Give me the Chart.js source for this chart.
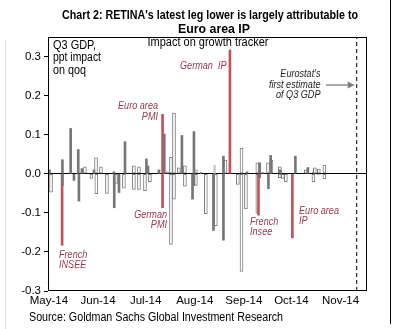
<!DOCTYPE html>
<html>
<head>
<meta charset="utf-8">
<script src="https://cdn.jsdelivr.net/npm/chart.js@4.4.0/dist/chart.umd.min.js"></script>
<style>
html, body { margin: 0; padding: 0; background: #fff; }
#wrap { position: relative; width: 399px; height: 329px; }
#edgeL { position: absolute; left: 5px; top: 40px; width: 1px; height: 289px; background: #e2e2e2; }
#edgeR { position: absolute; left: 390px; top: 0; width: 1px; height: 324px; background: #000; }
</style>
</head>
<body>
<div id="wrap"><canvas id="c"></canvas><div id="edgeL"></div><div id="edgeR"></div></div>
<script>
// ── DATA ────────────────────────────────────────────
// x = days since 1 May 2014
const monthDays = [0, 31, 61, 92, 123, 153, 184];
const monthLabels = ['May-14', 'Jun-14', 'Jul-14', 'Aug-14', 'Sep-14', 'Oct-14', 'Nov-14'];
const yTicks = [-0.3, -0.2, -0.1, 0, 0.1, 0.2, 0.3];

// dark grey bars
const filledDays = [0.3, 8.5, 8.5, 13.7, 15.8, 18.5, 18.9, 20.8, 28.4, 41, 41.2, 44.2, 48, 61.5, 62.5, 69.4, 72.8, 83.9, 90.6, 91.5, 91.5, 95.9, 103.8, 110.1, 110.1, 125, 133, 133, 135, 138.5, 139.9, 146, 155.5, 163.4];
const filledVals = [0.01, 0.036, -0.03, 0.116, -0.017, 0.062, -0.07, 0.013, 0.01, 0.005, -0.087, -0.048, 0.082, 0.038, 0.02, 0.01, 0.102, 0.098, -0.065, 0.108, -0.03, 0.003, -0.145, 0.045, -0.17, 0.005, 0.028, -0.01, 0.003, -0.038, 0.047, 0.01, 0.045, 0.016];

// outlined bars
const hollowDays = [1.3, 22.7, 26.8, 29.7, 29.9, 32.8, 36.6, 42.3, 47.3, 53.6, 53.6, 56.8, 56.8, 60.6, 63.7, 75, 77, 77, 78.9, 78.9, 82, 85.8, 85.8, 92.7, 92.7, 99, 105.3, 111.4, 119.2, 121.5, 121.5, 124.3, 131.5, 131.5, 138.2, 140.4, 145.7, 145.7, 147.6, 149.5, 162.1, 166.9, 166.9, 167.8, 170.3, 170.3, 173.8, 173.8];
const hollowVals = [-0.047, 0.018, -0.012, 0.041, -0.051, 0.018, -0.05, -0.025, -0.037, 0.02, -0.04, 0.018, -0.04, -0.043, -0.02, 0.005, 0.042, -0.181, 0.155, -0.065, 0.015, 0.02, -0.032, 0.01, -0.03, -0.102, -0.133, 0.035, -0.027, 0.066, -0.25, -0.09, 0.028, -0.1, 0.028, 0.035, 0.018, -0.01, -0.012, -0.02, 0.01, -0.02, 0.005, 0.015, 0.012, -0.003, 0.022, -0.013];

// light grey bars
const lightDays = [104.6];
const lightVals = [0.022];

// highlighted releases
const redDays = [8.3, 71.7, 71.7, 114.2, 132.2, 153.6];
const redVals = [-0.183, 0.152, -0.087, 0.317, -0.106, -0.164];

const estimateDay = 194.2;
const yMin = -0.3, yMax = 0.35;

const pts = (days, vals) => days.map((d, i) => ({ x: d, y: vals[i] }));

// ── TEXT HELPERS ────────────────────────────────────
const SANS = '"Liberation Sans", Arial, sans-serif';
const RED_TXT = '#953a4f';

function txt(ctx, s, x, y, align, font, color, sx, w) {
  ctx.save();
  ctx.font = font;
  if (w) sx = w / ctx.measureText(s).width;
  ctx.translate(x, y);
  ctx.scale(sx || 1, 1);
  ctx.fillStyle = color;
  ctx.textAlign = align;
  ctx.textBaseline = 'middle';
  ctx.fillText(s, 0, 0);
  ctx.restore();
}

const decor = {
  id: 'decor',
  afterDraw(chart) {
    const ctx = chart.ctx;
    const a = chart.chartArea;
    const xs = chart.scales.x;

    // frame
    ctx.save();
    ctx.strokeStyle = '#000';
    ctx.lineWidth = 1;
    ctx.strokeRect(Math.round(a.left) + 0.5, Math.round(a.top) + 0.5, Math.round(a.right - a.left) - 1, Math.round(a.bottom - a.top) - 1);
    ctx.restore();

    // title + labels
    const bold = 'bold 13px ' + SANS;
    txt(ctx, "Chart 2: RETINA's latest leg lower is largely attributable to", 210, 15, 'center', bold, '#000', 1, 296);
    txt(ctx, 'Euro area IP', 214, 29, 'center', bold, '#000', 0.95);
    const reg = '12px ' + SANS;
    txt(ctx, 'Impact on growth tracker', 208, 43, 'center', reg, '#000', 1, 121);
    txt(ctx, 'Q3 GDP,', 53, 45.5, 'left', reg, '#000', 1, 43);
    txt(ctx, 'ppt impact', 53, 57.5, 'left', reg, '#000', 1, 48);
    txt(ctx, 'on qoq', 53, 70.5, 'left', reg, '#000', 1, 33);
    txt(ctx, 'Source: Goldman Sachs Global Investment Research', 29, 318, 'left', '12.5px ' + SANS, '#000', 1, 254);

    const it = 'italic 10px ' + SANS;
    const k = 0.91;
    txt(ctx, 'German  IP', 180, 66, 'left', it, RED_TXT, k);
    txt(ctx, 'Euro area', 158, 106.5, 'right', it, RED_TXT, k);
    txt(ctx, 'PMI', 158, 117, 'right', it, RED_TXT, k);
    txt(ctx, 'German', 167, 215.5, 'right', it, RED_TXT, k);
    txt(ctx, 'PMI', 167, 225.5, 'right', it, RED_TXT, k);
    txt(ctx, 'French', 59, 255, 'left', it, RED_TXT, k);
    txt(ctx, 'INSEE', 59, 265, 'left', it, RED_TXT, k);
    txt(ctx, 'French', 250, 222, 'left', it, RED_TXT, k);
    txt(ctx, 'Insee', 250, 232, 'left', it, RED_TXT, k);
    txt(ctx, 'Euro area', 299, 211.5, 'left', it, RED_TXT, k);
    txt(ctx, 'IP', 299, 221.5, 'left', it, RED_TXT, k);

    txt(ctx, "Eurostat's", 320.5, 74.3, 'right', it, '#222', k);
    txt(ctx, 'first estimate', 320.5, 85, 'right', it, '#222', k);
    txt(ctx, 'of Q3 GDP', 320.5, 95.3, 'right', it, '#222', k);

    // arrow to the estimate line
    const tip = xs.getPixelForValue(estimateDay) - 2;
    ctx.save();
    ctx.strokeStyle = '#7f7f7f';
    ctx.fillStyle = '#7f7f7f';
    ctx.lineWidth = 1.3;
    ctx.beginPath();
    ctx.moveTo(326, 85);
    ctx.lineTo(tip - 6, 85);
    ctx.stroke();
    ctx.beginPath();
    ctx.moveTo(tip, 85);
    ctx.lineTo(tip - 7, 81.5);
    ctx.lineTo(tip - 7, 88.5);
    ctx.closePath();
    ctx.fill();
    ctx.restore();
  }
};

// ── CHART ───────────────────────────────────────────
const tickFont = { family: SANS, size: 11.5 };
const barBase = { grouped: false, borderSkipped: false };

new Chart(document.getElementById('c'), {
  type: 'bar',
  data: {
    datasets: [
      {
        type: 'line',
        data: [{ x: estimateDay, y: yMin }, { x: estimateDay, y: yMax }],
        borderColor: '#000', borderWidth: 1, borderDash: [4, 3],
        pointRadius: 0, order: 0
      },
      { ...barBase, data: pts(filledDays, filledVals), backgroundColor: '#777', barThickness: 2, order: 1 },
      { ...barBase, data: pts(redDays, redVals), backgroundColor: '#c4505a', barThickness: 2, order: 2 },
      { ...barBase, data: pts(lightDays, lightVals), backgroundColor: '#cfcfcf', barThickness: 2, order: 3 },
      { ...barBase, data: pts(hollowDays, hollowVals), backgroundColor: '#fff', borderColor: '#7c7c7c', borderWidth: 1, barThickness: 3, order: 4 }
    ]
  },
  options: {
    responsive: true,
    maintainAspectRatio: false,
    animation: false,
    layout: { padding: { left: 0, right: 32, top: 37, bottom: 0 } },
    plugins: { legend: { display: false }, tooltip: { enabled: false } },
    scales: {
      x: {
        type: 'linear',
        min: -0.6, max: 200.7,
        offset: false,
        grid: { display: false, drawTicks: false },
        border: { display: false },
        afterBuildTicks: s => { s.ticks = monthDays.map(v => ({ value: v })); },
        afterFit: s => { s.height = 38; },
        ticks: {
          autoSkip: false, maxRotation: 0, padding: 3,
          color: '#000', font: tickFont,
          callback: (v, i) => monthLabels[i]
        }
      },
      y: {
        min: yMin, max: yMax,
        afterBuildTicks: s => { s.ticks = yTicks.map(v => ({ value: v })); },
        afterFit: s => { s.width = 48; },
        border: { display: false },
        grid: {
          color: c => (c.tick && c.tick.value === 0 ? '#000' : 'rgba(0,0,0,0)'),
          tickColor: '#000', tickLength: 4, lineWidth: 1
        },
        ticks: {
          padding: 3, color: '#000', font: tickFont,
          callback: v => v.toFixed(1)
        }
      }
    }
  },
  plugins: [decor]
});
</script>
</body>
</html>
